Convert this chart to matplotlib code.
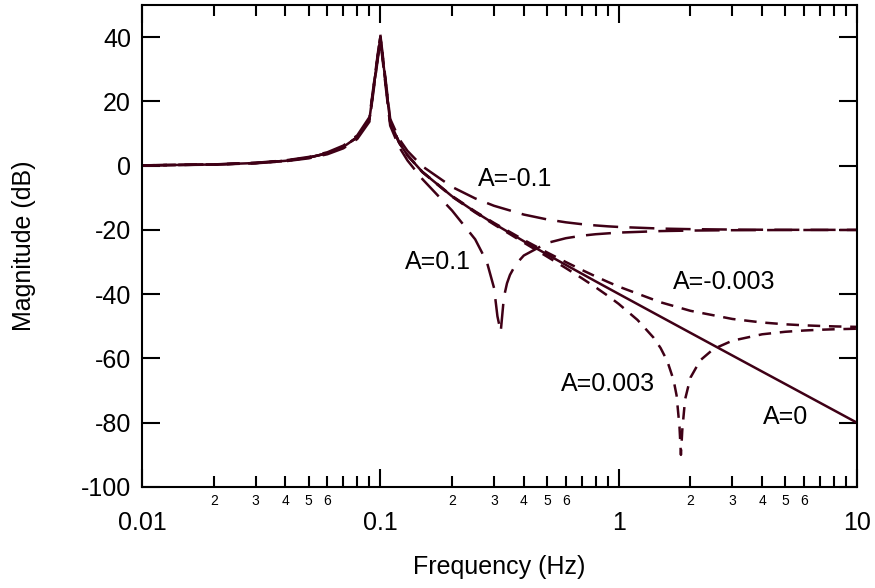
import numpy as np
import matplotlib
matplotlib.use("Agg")
import matplotlib.pyplot as plt
from matplotlib.ticker import FixedLocator, FixedFormatter, LogLocator, FuncFormatter

plt.rcParams['font.family'] = ['Liberation Sans', 'DejaVu Sans']
plt.rcParams['axes.unicode_minus'] = False

# frequency grid (Hz) shared by the curves without a notch
freq = [0.01, 0.02, 0.03, 0.04, 0.05, 0.06, 0.07, 0.08, 0.09, 0.1, 0.11, 0.12, 0.13,
        0.15, 0.2, 0.25, 0.3, 0.4, 0.5, 0.6, 0.7, 0.8, 0.9, 1, 1.5, 2, 3, 4, 5, 6,
        7, 8, 9, 10]

# magnitudes (dB)
mag_a0 = [0.09, 0.36, 0.82, 1.51, 2.50, 3.88, 5.85, 8.87, 14.42, 40.0, 13.56, 7.13, 3.22,
          -1.94, -9.54, -14.40, -18.06, -23.52, -27.60, -30.88, -33.62, -35.99, -38.06,
          -39.91, -47.00, -52.02, -59.08, -64.08, -67.95, -71.12, -73.80, -76.12, -78.17,
          -80.00]
mag_am01 = [0.10, 0.39, 0.90, 1.65, 2.71, 4.18, 6.26, 9.41, 15.10, 40.8, 14.55, 8.30, 4.58,
            -0.18, -6.62, -10.19, -12.49, -15.22, -16.72, -17.63, -18.21, -18.60, -18.88,
            -19.08, -19.58, -19.76, -19.89, -19.94, -19.96, -19.97, -19.98, -19.98, -19.99,
            -19.99]
mag_am0003 = [0.09, 0.36, 0.82, 1.52, 2.51, 3.89, 5.86, 8.89, 14.45, 40.0, 13.59, 7.17, 3.27,
              -1.88, -9.44, -14.24, -17.83, -23.11, -26.98, -29.99, -32.43, -34.46, -36.17,
              -37.63, -42.52, -45.17, -47.71, -48.81, -49.37, -49.69, -49.88, -50.02, -50.11,
              -50.17]

# curves with a notch have their own, denser frequency points
freq_a01 = [0.01, 0.02, 0.03, 0.04, 0.05, 0.06, 0.07, 0.08, 0.09, 0.1, 0.11, 0.12, 0.13,
            0.15, 0.2, 0.25, 0.28, 0.3, 0.31, 0.32, 0.33, 0.34, 0.35, 0.37, 0.4,
            0.5, 0.6, 0.7, 0.8, 1, 1.5, 2, 3, 5, 10]
mag_a01 = [0.08, 0.32, 0.74, 1.38, 2.28, 3.56, 5.41, 8.30, 13.69, 39.1, 12.44, 5.78, 1.61,
           -4.15, -13.98, -22.92, -30.01, -38.06, -46.88, -51.71, -40.92, -36.61, -33.98,
           -30.73, -27.96, -24.08, -22.58, -21.80, -21.34, -20.83, -20.36, -20.20, -20.09,
           -20.03, -20.01]

freq_a0003 = [0.01, 0.02, 0.03, 0.04, 0.05, 0.06, 0.07, 0.08, 0.09, 0.1, 0.11, 0.12, 0.13,
              0.15, 0.2, 0.25, 0.3, 0.4, 0.5, 0.6, 0.7, 0.8, 0.9, 1, 1.2, 1.4, 1.5, 1.6,
              1.7, 1.75, 1.8, 1.825, 1.85, 1.9, 2, 2.2, 2.5, 3, 4, 5, 6, 7, 8, 10]
mag_a0003 = [0.09, 0.35, 0.82, 1.51, 2.49, 3.87, 5.84, 8.86, 14.40, 40.0, 13.52, 7.09, 3.18,
             -2.00, -9.65, -14.57, -18.30, -23.95, -28.28, -31.87, -35.01, -37.84, -40.48,
             -43.01, -48.02, -53.50, -56.77, -60.82, -66.71, -71.50, -81.24, -90.0, -82.11,
             -72.74, -66.00, -60.58, -57.06, -54.47, -52.48, -51.70, -51.30, -51.07, -50.92,
             -50.75]

major_ticks = [0.01, 0.1, 1, 10]
major_labels = ['0.01', '0.1', '1', '10']
minor_labels = ['2', '3', '4', '5', '6']

color = '#3f0016'
lw = 1.8

fig = plt.figure(figsize=(8.75, 5.88), dpi=100)
ax = fig.add_axes([0.1623, 0.1718, 0.8171, 0.8197])

ax.plot(freq, mag_a0, color=color, lw=lw)
ax.plot(freq, mag_am01, color=color, lw=lw, dashes=(10, 4.5))
ax.plot(freq_a01, mag_a01, color=color, lw=lw, dashes=(10, 4.5))
ax.plot(freq, mag_am0003, color=color, lw=lw, dashes=(5, 3.5))
ax.plot(freq_a0003, mag_a0003, color=color, lw=lw, dashes=(5, 3.5))

ax.set_xscale('log')
ax.set_xlim(0.01, 10)
ax.set_ylim(-100, 50)

ax.xaxis.set_major_locator(FixedLocator(major_ticks))
ax.xaxis.set_major_formatter(FixedFormatter(major_labels))
ax.xaxis.set_minor_locator(LogLocator(base=10, subs=np.arange(2, 10), numticks=20))


def minor_fmt(v, pos):
    m = str(int(round(v / 10 ** np.floor(np.log10(v) + 1e-9))))
    return m if m in minor_labels else ''


ax.xaxis.set_minor_formatter(FuncFormatter(minor_fmt))
ax.set_yticks([-100, -80, -60, -40, -20, 0, 20, 40])

ax.tick_params(which='both', direction='in', top=True, right=True, width=1.5, color='black')
ax.tick_params(which='major', length=13, labelsize=18, pad=8)
ax.tick_params(axis='x', which='major', pad=17)
ax.tick_params(axis='x', which='minor', length=8, labelsize=10, pad=5)
for s in ax.spines.values():
    s.set_linewidth(1.5)

ax.set_xlabel('Frequency (Hz)', fontsize=18)
ax.set_ylabel('Magnitude (dB)', fontsize=18)
ax.xaxis.set_label_coords(0.5, -0.166)
ax.xaxis.label.set_va('center')
ax.yaxis.set_label_coords(-0.165, 0.5)
ax.yaxis.label.set_va('center')

fs = 18
ax.text(0.257, -4.1, 'A=-0.1', fontsize=fs, ha='left', va='center')
ax.text(0.127, -30.0, 'A=0.1', fontsize=fs, ha='left', va='center')
ax.text(1.69, -36.3, 'A=-0.003', fontsize=fs, ha='left', va='center')
ax.text(0.573, -68.1, 'A=0.003', fontsize=fs, ha='left', va='center')
ax.text(4.04, -78.1, 'A=0', fontsize=fs, ha='left', va='center')

fig.savefig('out.png', dpi=100)
